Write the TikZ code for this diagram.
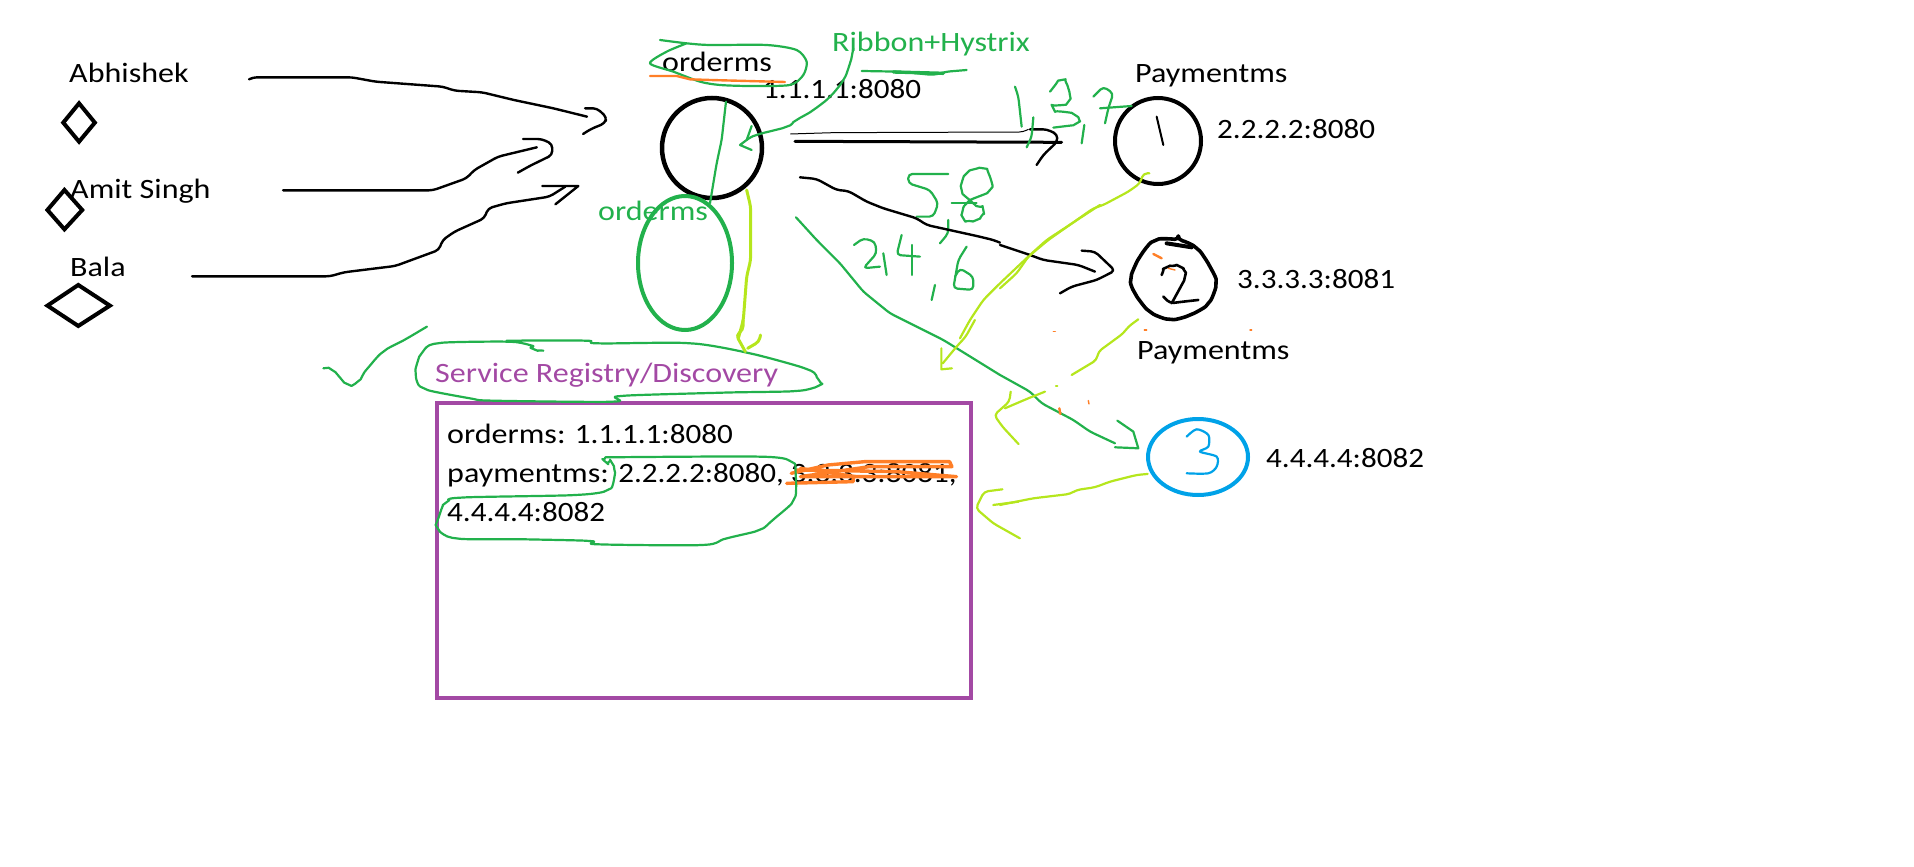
\documentclass[tikz,border=0pt]{standalone}
\usepackage{fontspec}
\usetikzlibrary{shapes.geometric}
\setmainfont{Carlito}[FakeStretch=1.11]
\newfontfamily\wordfont{Carlito}[FakeStretch=1.145]
\definecolor{sgreen}{HTML}{22B14C}
\definecolor{lime}{HTML}{B5E61D}
\definecolor{sorange}{HTML}{FF7F27}
\definecolor{spurple}{HTML}{A349A4}
\definecolor{sblue}{HTML}{00A2E8}
\tikzset{
  txt/.style={anchor=base west,inner sep=0pt,font=\fontsize{28}{30}\selectfont,text=black},
  wtxt/.style={txt,font=\fontsize{28}{30}\wordfont},
  gtxt/.style={wtxt,text=sgreen},
  ptxt/.style={wtxt,text=spurple},
  ink/.style={line join=round,line cap=round,line width=2.4pt,black,rounded corners=4pt},
  gink/.style={line join=round,line cap=round,line width=2.2pt,sgreen,rounded corners=4pt},
  link/.style={line join=round,line cap=round,line width=2.2pt,lime,rounded corners=4pt},
  oink/.style={line join=round,line cap=round,line width=2.4pt,sorange},
  bink/.style={line join=round,line cap=round,line width=2.2pt,sblue},
  zA/.style={shift={(600pt,0pt)},x=0.3333pt,y=-0.3333pt},
  zB/.style={shift={(1000pt,-30pt)},x=0.3333pt,y=-0.3333pt},
  zC/.style={shift={(0pt,-30pt)},x=0.3953pt,y=-0.3333pt},
  zD/.style={shift={(300pt,-320pt)},x=0.4591pt,y=-0.3333pt},
}
\begin{document}
\begin{tikzpicture}[x=1pt,y=-1pt]
\useasboundingbox (0,0) rectangle (1914,867);
% registry box
\node[draw=spurple,line width=4pt,outer sep=0pt,minimum width=534pt,minimum height=295pt,inner sep=0pt,anchor=north west] (registry) at (437,403) {};
% service circles
\node[circle,draw=black,line width=4.5pt,minimum size=100pt,inner sep=0pt] (order) at (712,148) {};
\node[circle,draw=black,line width=4pt,minimum size=86pt,inner sep=0pt] (payone) at (1158,141) {};
\node[ellipse,draw=sgreen,line width=4pt,minimum width=94pt,minimum height=134pt,inner sep=0pt] (orderb) at (685,263) {};
\node[ellipse,draw=sblue,line width=4pt,minimum width=100pt,minimum height=76pt,inner sep=0pt] (paythree) at (1198,457) {};
% texts
\node[wtxt] (abhi) at (69,82) {Abhishek};
\node[wtxt] (amit) at (70,198) {Amit Singh};
\node[wtxt] (bala) at (70,276) {Bala};
\node[wtxt] (orderlabel) at (662,71) {orderms};
\node[txt] (orderaddr) at (763,99) {1.1.1.1:8080};
\node[gtxt] (ribbon) at (832,52) {Ribbon+Hystrix};
\node[gtxt] (orderg) at (598,220) {orderms};
\node[wtxt] (payla) at (1135,82) {Paymentms};
\node[txt] (addrone) at (1217,138) {2.2.2.2:8080};
\node[txt] (addrtwo) at (1237,288) {3.3.3.3:8081};
\node[wtxt] (paylb) at (1137,359) {Paymentms};
\node[txt] (addrthree) at (1266,467) {4.4.4.4:8082};
\node[ptxt] (srv) at (435,382) {Service Registry/Discovery};
\node[txt] (regone) at (447,443) {{\wordfont orderms:} 1.1.1.1:8080};
\node[txt] (regtwo) at (447,482) {{\wordfont paymentms:} 2.2.2.2:8080, 3.3.3.3:8081,};
\node[txt] (regthree) at (447,521) {4.4.4.4:8082};
% diamonds
\begin{scope}[zC]
\draw[ink,line width=4pt,rounded corners=0pt,line join=miter] (200,220)--(240,278)--(200,335)--(160,278)--cycle;
\draw[ink,line width=4pt,rounded corners=0pt,line join=miter] (163,480)--(208,540)--(163,598)--(120,540)--cycle;
\draw[ink,line width=4pt,rounded corners=0pt,line join=miter] (198,765)--(278,827)--(198,888)--(120,827)--cycle;
% user arrows
\draw[ink] (630,148)--(640,142)--(890,142)--(950,155)--(1120,170)--(1150,182)--(1220,187)--(1300,210)--(1400,235)--(1485,260);
\draw[ink] (1480,235)--(1510,235)--(1535,262)--(1530,280)--(1495,297)--(1475,312);
\draw[ink] (716,481)--(1095,481)--(1180,445)--(1200,420)--(1260,380)--(1358,352);
\draw[ink] (1323,327)--(1370,327)--(1397,342)--(1397,375)--(1340,408)--(1310,428);
\draw[ink] (486,739)--(835,739)--(870,727)--(1000,708)--(1110,660)--(1120,630)--(1150,605)--(1225,565)--(1235,535)--(1280,520)--(1390,500)--(1430,470);
\draw[ink,rounded corners=0pt] (1372,468)--(1463,468)--(1405,523);
% check mark
\draw[gink] plot[smooth,tension=.5] coordinates {(818,1015)(840,1020)(880,1063)(905,1055)(930,1015)(970,965)(1030,925)(1080,890)};
\end{scope}
% crop A
\begin{scope}[zA]
\draw[gink,rounded corners=0pt] plot[smooth,tension=.45] coordinates {(180,120)(260,130)(330,135)(500,135)(590,150)(620,185)(610,225)(570,255)(450,258)(360,255)(300,245)(220,215)(150,190)(200,155)(260,130)};
\draw[oink] (150,228)--(230,228)--(270,238)--(330,240)--(555,246);
\draw[gink] plot[smooth,tension=.5] coordinates {(760,145)(750,190)(730,240)(690,290)(640,330)(590,360)(560,380)(470,405)(440,420)};
\draw[gink,rounded corners=0pt] (455,378)--(440,420)--(420,435)--(455,450);
\draw[gink] (378,305)--(365,420)--(350,490)--(330,610);
\draw[gink] (785,213)--(900,215)--(1000,225)--(1040,215)--(1100,210);
\draw[gink,line width=3.4pt] (880,216)--(1030,220);
\draw[ink,line width=1pt] (572,402)--(700,398)--(1270,396)--(1285,388);
\draw[ink,line width=3pt] (585,424)--(1385,427);
\draw[ink] (1290,388)--(1340,388)--(1372,403)--(1372,425)--(1330,465)--(1310,495);
% 5,8
\draw[gink] (1045,522)--(925,522)--(925,550)--(990,570)--(1015,610)--(1000,650)--(950,650);
\draw[gink] (1045,660)--(1045,700)--(1020,730);
\draw[gink] plot[smooth,tension=.5] coordinates {(1170,530)(1150,505)(1100,520)(1085,570)(1120,610)(1150,630)(1130,660)(1090,655)(1100,610)(1170,570)(1170,530)};
\draw[gink] (1055,608)--(1130,608);
% 2,4,6
\draw[gink] (762,735)--(790,715)--(825,725)--(830,760)--(790,805)--(840,800);
\draw[gink] (850,760)--(860,825);
\draw[gink] (905,705)--(890,765)--(960,770);
\draw[gink] (935,735)--(935,825);
\draw[gink] (1005,855)--(995,900);
\draw[gink] (1100,740)--(1075,780)--(1060,865)--(1120,870)--(1120,830)--(1080,805)--(1065,830);
% order to registry
\draw[link,line width=3pt] (440,570)--(452,620)--(452,780)--(440,830)--(430,960)--(415,1015);
% curves
\draw[gink] (588,652)--(650,720)--(720,790)--(790,875)--(870,940)--(960,985)--(1030,1020)--(1200,1125);
\draw[ink] (600,532)--(650,537)--(710,570)--(745,573)--(800,605)--(850,625)--(950,655)--(980,675)--(1130,708)--(1180,720)--(1200,728);
\draw[link] (1500,615)--(1340,720)--(1290,765)--(1200,850)--(1150,900)--(1110,960)--(1080,1015);
\end{scope}
% crop B
\begin{scope}[zB]
\draw[ink] (0,645)--(90,675)--(130,690)--(235,705)--(285,725);
\draw[ink] (245,662)--(285,665)--(345,722)--(290,750)--(215,770)--(180,790);
\draw[gink] (0,1035)--(90,1085)--(125,1120)--(220,1170)--(270,1205)--(345,1240);
\draw[gink,rounded corners=0pt] (352,1172)--(400,1205)--(415,1255)--(345,1252);
\draw[link] (448,430)--(430,430)--(420,460)--(385,485)--(310,525)--(280,535)--(145,630)--(85,680)--(50,730)--(0,775);
% 1,3,7
\draw[gink] (45,170)--(55,200)--(65,290);
\draw[gink] (100,262)--(95,320)--(80,352);
\draw[gink] plot[smooth,tension=.5] coordinates {(150,185)(185,150)(205,175)(205,215)(160,235)(225,255)(230,280)(160,293)};
\draw[gink] (253,285)--(245,340);
\draw[gink] (280,200)--(310,170)--(340,190)--(325,235)--(315,280);
\draw[gink] (300,235)--(395,228);
% circle 1 tick
\draw[ink,line width=2pt] (470,260)--(490,345);
% circle 2, hand drawn
\draw[ink,line width=3.6pt] plot[smooth cycle,tension=.5] coordinates {(465,632)(535,630)(590,655)(630,710)(648,760)(625,820)(570,855)(510,868)(450,845)(405,790)(393,745)(420,680)};
\draw[ink,line width=4pt] (500,640)--(575,652);
\draw[ink,line width=2.6pt] plot[smooth,tension=.4] coordinates {(485,735)(500,712)(540,710)(555,740)(515,820)};
\draw[ink,line width=2.6pt] (490,800)--(510,820)--(550,815)--(595,810);
% circle 3 digit
\draw[bink] plot[smooth,tension=.5] coordinates {(560,1220)(590,1198)(625,1215)(625,1250)(600,1265)(650,1280)(650,1310)(625,1330)(560,1330)};
% lime from circle 2
\draw[link] (415,868)--(385,890)--(370,910)--(295,965)--(290,990)--(215,1035);
\draw[link] (135,1085)--(85,1105)--(15,1135);
\draw[link] (168,1068)--(172,1068);
% lime from circle 3
\draw[link] (443,1332)--(410,1335)--(330,1355)--(285,1372)--(230,1380)--(210,1392)--(100,1405)--(0,1425);
% orange specks
\draw[oink] (460,672)--(485,685);
\draw[oink,line width=1.4pt] (505,715)--(525,720);
\draw[oink,line width=1.4pt] (160,905)--(166,905);
\draw[oink,line width=1.4pt] (433,900)--(440,900);
\draw[oink,line width=1.4pt] (750,900)--(755,900);
\draw[oink,line width=1.4pt] (265,1112)--(267,1122);
\draw[oink,line width=2.4pt] (178,1135)--(181,1152);
\end{scope}
% crop D
\begin{scope}[zD]
\draw[gink] plot[smooth,tension=.45] coordinates {(530,92)(510,88)(500,75)(450,65)(300,70)(265,100)(252,160)(270,205)(370,235)(420,242)(680,245)(700,228)(920,218)(1080,213)(1130,197)(1130,180)(1105,148)(980,100)(850,70)(650,70)(620,62)(450,62)};
% lime arrow heads
\draw[link,line width=3pt] (965,0)--(965,30)--(950,45)--(970,95);
\draw[link,line width=3pt] (1003,45)--(1000,65)--(975,85);
\draw[link] (1470,0)--(1450,50)--(1430,80)--(1400,130);
\draw[link,rounded corners=0pt] (1397,85)--(1397,148)--(1420,145);
\draw[link] (1548,215)--(1545,245)--(1512,285)--(1530,320)--(1565,372);
\draw[link] (1565,545)--(1510,555);
\draw[link] (1530,508)--(1490,515)--(1472,565)--(1510,610)--(1568,655);
% strike through
\draw[oink,line width=3.4pt] (1070,460)--(1150,435)--(1230,425)--(1415,425)--(1420,440)--(1240,440)--(1090,470)--(1430,470)--(1300,455)--(1080,450);
\draw[oink,line width=3.4pt] (1060,490)--(1205,485)--(1205,470);
\draw[oink,line width=3.4pt] (1090,445)--(1210,470);
% green enclosure
\draw[gink] plot[smooth,tension=.45] coordinates {(665,412)(1000,410)(1070,425)(1080,470)(1075,540)(1030,600)(1000,630)(930,655)(875,675)(650,673)(630,663)(490,658)(340,655)(300,625)(305,580)(318,548)(350,533)(600,525)(670,510)(685,470)(680,430)(665,425)(665,412)};
\end{scope}
\end{tikzpicture}
\end{document}
